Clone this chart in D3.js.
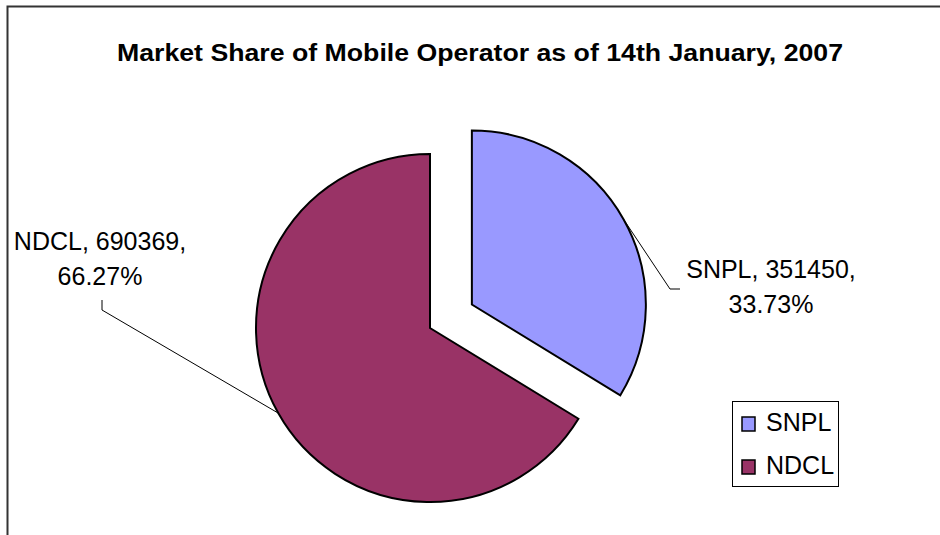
<!DOCTYPE html>
<html lang="en">
  <head>
    <meta charset="UTF-8" />
    <title>Market Share of Mobile Operator</title>
    <script src="https://d3js.org/d3.v7.min.js"></script>
    <style>
      body {
        margin: 0;
        background-color: #fff;
        font-family: "Liberation Sans", Arial, sans-serif;
      }
      svg {
        display: block;
      }
    </style>
  </head>
  <body>
    <div id="chart"></div>

    <script>
      // data
      const operators = ["SNPL", "NDCL"];
      const subscribers = [351450, 690369];
      const shareLabels = ["33.73%", "66.27%"];
      const colors = ["#9999ff", "#993366"];
      const explode = [48, 0];

      const width = 940;
      const height = 535;
      const cx = 430;
      const cy = 328;
      const radius = 174;

      const svg = d3
        .select("#chart")
        .append("svg")
        .attr("width", width)
        .attr("height", height);

      // chart frame (runs off the right and bottom of the picture)
      svg
        .append("path")
        .attr("d", "M7.5,560 L7.5,6.5 L960,6.5")
        .attr("fill", "none")
        .attr("stroke", "#333")
        .attr("stroke-width", 2);

      svg
        .append("text")
        .attr("x", 480)
        .attr("y", 61)
        .attr("text-anchor", "middle")
        .attr("textLength", 726)
        .attr("lengthAdjust", "spacingAndGlyphs")
        .style("font-size", "23px")
        .style("font-weight", "bold")
        .text("Market Share of Mobile Operator as of 14th January, 2007");

      const data = operators.map((name, i) => ({
        name: name,
        value: subscribers[i],
        share: shareLabels[i],
        color: colors[i],
        explode: explode[i],
      }));

      const pie = d3.pie().sort(null).value((d) => d.value);
      const arcs = pie(data);
      const arc = d3.arc().innerRadius(0).outerRadius(radius);

      const g = svg.append("g").attr("transform", `translate(${cx},${cy})`);

      function offset(d, r) {
        const a = (d.startAngle + d.endAngle) / 2;
        return [Math.sin(a) * r, -Math.cos(a) * r];
      }

      g.selectAll("path.slice")
        .data(arcs)
        .join("path")
        .attr("class", "slice")
        .attr("d", arc)
        .attr("transform", (d) => {
          const [dx, dy] = offset(d, d.data.explode);
          return `translate(${dx},${dy})`;
        })
        .attr("fill", (d) => d.data.color)
        .attr("stroke", "#000")
        .attr("stroke-width", 2)
        .attr("stroke-linejoin", "miter");

      // data labels with leader lines
      const labelPos = {
        SNPL: { x: 771, y: 278, elbow: [670, 289], end: [680, 289] },
        NDCL: { x: 100, y: 250, elbow: [102, 310], end: [102, 300] },
      };

      arcs.forEach((d) => {
        const p = labelPos[d.data.name];
        const [ex, ey] = offset(d, d.data.explode + radius);
        svg
          .append("polyline")
          .attr(
            "points",
            [[cx + ex, cy + ey], p.elbow, p.end].map((q) => q.join(",")).join(" ")
          )
          .attr("fill", "none")
          .attr("stroke", "#000")
          .attr("stroke-width", 1);

        const t = svg
          .append("text")
          .attr("x", p.x)
          .attr("y", p.y)
          .attr("text-anchor", "middle")
          .style("font-size", "25px")
          .attr("fill", "#000");
        t.append("tspan")
          .attr("x", p.x)
          .text(`${d.data.name}, ${d.data.value},`);
        t.append("tspan")
          .attr("x", p.x)
          .attr("dy", 35)
          .text(d.data.share);
      });

      // legend
      const legend = svg.append("g").attr("transform", "translate(732,401)");
      legend
        .append("rect")
        .attr("x", 0.5)
        .attr("y", 0.5)
        .attr("width", 106)
        .attr("height", 85)
        .attr("fill", "#fff")
        .attr("stroke", "#000")
        .attr("stroke-width", 1);

      const item = legend
        .selectAll("g.item")
        .data(data)
        .join("g")
        .attr("class", "item")
        .attr("transform", (d, i) => `translate(10,${16 + i * 43})`);

      item
        .append("rect")
        .attr("width", 13)
        .attr("height", 14)
        .attr("fill", (d) => d.color)
        .attr("stroke", "#000")
        .attr("stroke-width", 1.5);

      item
        .append("text")
        .attr("x", 24)
        .attr("y", 14)
        .style("font-size", "25px")
        .text((d) => d.name);
    </script>
  </body>
</html>
